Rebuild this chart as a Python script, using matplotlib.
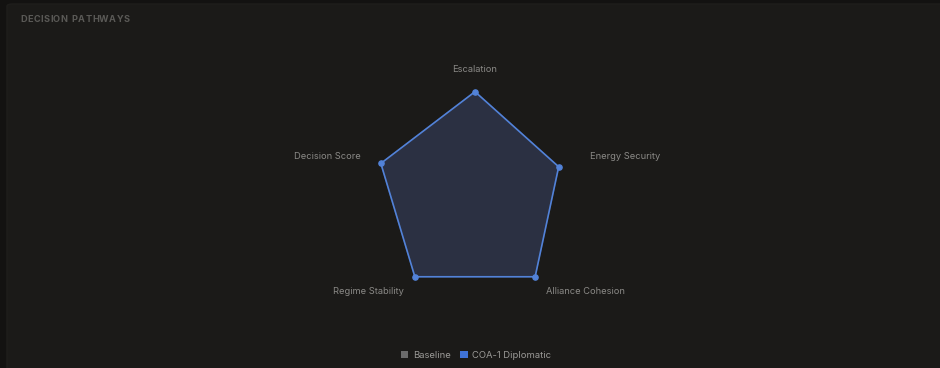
import numpy as np
import matplotlib
matplotlib.use("Agg")
import matplotlib.pyplot as plt
from matplotlib.patches import FancyBboxPatch, Patch

plt.rcParams['font.family'] = ['Inter', 'DejaVu Sans']

categories = ["Escalation", "Energy Security", "Alliance Cohesion", "Regime Stability", "Decision Score"]
coa1_values = [93, 80, 93, 93, 90]
series_names = ["Baseline", "COA-1 Diplomatic"]
series_colors = ["#6b6b6b", "#3f72d6"]

W, H = 940, 368
fig = plt.figure(figsize=(W / 100, H / 100), dpi=100)
fig.patch.set_facecolor("#131211")

# panel behind everything
panel = FancyBboxPatch((7 / W, -10 / H), (W + 10) / W, (H + 6) / H,
                       boxstyle="round,pad=0,rounding_size=0.006",
                       transform=fig.transFigure, facecolor="#1b1a18",
                       edgecolor="#1f1e1c", linewidth=1, zorder=-10)
fig.add_artist(panel)

# title with a little letter spacing
title = "DECISION PATHWAYS"
renderer = fig.canvas.get_renderer()
x = 20
for ch in title:
    t = fig.text(x / W, 1 - 20 / H, ch, fontsize=6.6, fontweight="bold",
                 color="#5a5956", ha="left", va="center")
    bb = t.get_window_extent(renderer=renderer)
    x = bb.x1 + 0.45 + (1.0 if ch == " " else 0)

# radar
cx, cy, R = 475, 194, 110
ax = fig.add_axes([(cx - R) / W, 1 - (cy + R) / H, 2 * R / W, 2 * R / H], projection="polar")
ax.set_facecolor("none")
ax.set_theta_zero_location("N")
ax.set_theta_direction(-1)
ax.set_ylim(0, 100)
ax.grid(False)
ax.spines["polar"].set_visible(False)
ax.set_xticks([])
ax.set_yticks([])

n = len(categories)
angles = np.linspace(0, 2 * np.pi, n, endpoint=False)
vals = np.array(coa1_values + coa1_values[:1])
ang = np.concatenate([angles, angles[:1]])
ax.fill(ang, vals, color="#2b3042", alpha=1.0, zorder=2)
ax.plot(ang, vals, color="#5282d8", linewidth=1.2, zorder=3)
ax.scatter(angles, coa1_values, s=14, color="#5282d8", zorder=4)

label_r = 109.5
for a, name in zip(angles, categories):
    s = np.sin(a)
    va = "center"
    if abs(s) < 0.1:
        ha = "center"
        va = "bottom"
    elif s > 0:
        ha = "left"
    else:
        ha = "right"
    ax.text(a, label_r, name, ha=ha, va=va, fontsize=6.7, color="#8a8986",
            clip_on=False)

handles = [Patch(facecolor=c, edgecolor="none") for c in series_colors]
leg = fig.legend(handles, series_names, loc="center", bbox_to_anchor=(476 / W, 1 - 355 / H),
                 ncol=2, frameon=False, fontsize=6.8, handlelength=0.8, handleheight=0.8,
                 handletextpad=0.5, columnspacing=1.0)
for t in leg.get_texts():
    t.set_color("#9a9996")

fig.savefig("out.png", dpi=100, facecolor=fig.get_facecolor())
